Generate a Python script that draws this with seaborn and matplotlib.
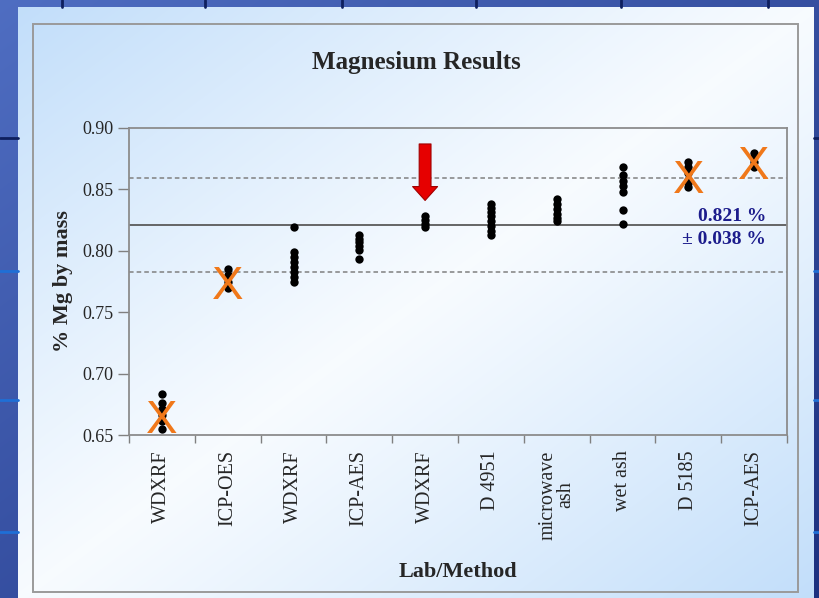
import numpy as np
import pandas as pd
import matplotlib
matplotlib.use("Agg")
import matplotlib.pyplot as plt
from matplotlib.ticker import FormatStrFormatter
from matplotlib.patches import Rectangle
import seaborn as sns

# ---- data ----
method_labels = ["WDXRF", "ICP-OES", "WDXRF", "ICP-AES", "WDXRF",
                 "D 4951", "microwave\nash", "wet ash", "D 5185", "ICP-AES"]
lab_ids = ["L%d" % (i + 1) for i in range(len(method_labels))]

lab1 = [0.683, 0.676, 0.671, 0.666, 0.661, 0.655]
lab2 = [0.785, 0.780, 0.775, 0.770]
lab3 = [0.819, 0.799, 0.795, 0.791, 0.787, 0.783, 0.779, 0.775]
lab4 = [0.813, 0.810, 0.807, 0.804, 0.801, 0.793]
lab5 = [0.828, 0.825, 0.822, 0.819]
lab6 = [0.838, 0.835, 0.832, 0.828, 0.824, 0.820, 0.816, 0.813]
lab7 = [0.842, 0.838, 0.834, 0.830, 0.827, 0.824]
lab8 = [0.868, 0.862, 0.857, 0.853, 0.848, 0.833, 0.822]
lab9 = [0.872, 0.868, 0.863, 0.858, 0.855, 0.852]
lab10 = [0.880, 0.876, 0.872, 0.868]

consensus_mean = 0.821
consensus_ci = 0.038

# labs struck out (index, centre of the X)
rejected_idx = [0, 1, 8, 9]
rejected_y = [0.6655, 0.775, 0.861, 0.872]

flagged_idx = 4

all_labs = [lab1, lab2, lab3, lab4, lab5, lab6, lab7, lab8, lab9, lab10]
df = pd.DataFrame({
    "lab": [lid for lid, vals in zip(lab_ids, all_labs) for _ in vals],
    "value": [v for vals in all_labs for v in vals],
})

# ---- figure + slide background ----
W, H = 819, 598
sns.set_style("ticks")
plt.rcParams["font.family"] = ["Liberation Serif", "DejaVu Serif"]

fig = plt.figure(figsize=(W / 100, H / 100), dpi=100)

yy, xx = np.mgrid[0:H, 0:W]
s = (xx / W * 0.5 + yy / H * 0.5)[..., None]
dark_a = np.array([0.31, 0.43, 0.76])
dark_b = np.array([0.11, 0.19, 0.50])
img = dark_a * (1 - s) + dark_b * s

px0, py0, px1, py1 = 18, 7, 814, 598
t = ((xx - px0) / (px1 - px0) + (yy - py0) / (py1 - py0)) / 2
f = (np.clip(np.abs(t - 0.5) * 2, 0, 1) ** 1.1)[..., None]
light_blue = np.array([0.76, 0.87, 0.98])
white = np.array([0.97, 0.985, 1.0])
panel = white * (1 - f) + light_blue * f
inside = ((xx >= px0) & (xx < px1) & (yy >= py0))[..., None]
img = np.where(inside, panel, img)

bg = fig.add_axes([0, 0, 1, 1])
bg.imshow(img, extent=(0, W, H, 0), aspect="auto", zorder=0)
bg.set_xlim(0, W)
bg.set_ylim(H, 0)
bg.axis("off")

for gx in [62, 205, 342, 476, 621, 768]:
    bg.plot([gx, gx], [0, py0], color="#0e1f5e", lw=2, zorder=1)
for gy, c in [(138, "#0e1f5e"), (271, "#1f6fd6"), (400, "#1f6fd6"), (532, "#1f6fd6")]:
    bg.plot([0, px0], [gy, gy], color=c, lw=2, zorder=1)
    bg.plot([px1, W], [gy, gy], color=c, lw=2, zorder=1)
bg.add_patch(Rectangle((33, 24), 765, 568, fill=False, ec="#9a9a9a", lw=1.4, zorder=2))

# ---- chart ----
ax = fig.add_axes([129 / W, 1 - 435 / H, 658 / W, 307 / H])
ax.patch.set_alpha(0)

ax.axhline(consensus_mean, color="#5a5a5a", lw=1.3, zorder=1)
for lim in [consensus_mean + consensus_ci, consensus_mean - consensus_ci]:
    ax.axhline(lim, color="#808080", lw=1.1, ls=(0, (3, 2)), zorder=1)

sns.stripplot(data=df, x="lab", y="value", order=lab_ids, jitter=False,
              color="black", size=6, linewidth=0, ax=ax, zorder=3)

for i, yv in zip(rejected_idx, rejected_y):
    ax.text(i, yv, "X", ha="center", va="center_baseline", fontsize=34,
            color="#F0781A", family="Liberation Sans", zorder=4)

ax.annotate("", xy=(flagged_idx, 0.841), xytext=(flagged_idx, 0.887),
            arrowprops=dict(arrowstyle="simple,head_length=1.0,head_width=1.8,tail_width=0.85",
                            fc="#e60000", ec="#a00000", lw=0.8,
                            shrinkA=0, shrinkB=0, mutation_scale=10),
            zorder=5)

ax.text(9.18, 0.8283, f"{consensus_mean:.3f} %", ha="right", va="center",
        fontsize=14, fontweight="bold", color="#1c1c8c")
ax.text(9.18, 0.8088, f"\u00b1 {consensus_ci:.3f} %", ha="right", va="center",
        fontsize=14, fontweight="bold", color="#1c1c8c")

ax.set_xlim(-0.5, 9.5)
ax.set_ylim(0.65, 0.90)
ax.set_yticks(np.arange(0.65, 0.901, 0.05))
ax.yaxis.set_major_formatter(FormatStrFormatter("%.2f"))
ax.set_xticks(range(len(method_labels)))
ax.set_xticklabels(method_labels, rotation=90, fontsize=14.5, linespacing=0.95)
ax.set_xticks(np.arange(-0.5, len(method_labels), 1), minor=True)
ax.tick_params(axis="x", which="major", length=0, pad=11)
ax.tick_params(axis="x", which="minor", length=6, color="#808080", width=1)
ax.tick_params(axis="y", length=8, color="#808080", width=1, labelsize=13, pad=3)

for sp in ax.spines.values():
    sp.set_visible(True)
    sp.set_color("#8c8c8c")
    sp.set_linewidth(1.3)

ax.set_xlabel("Lab/Method", fontsize=16, fontweight="bold", va="center")
ax.xaxis.set_label_coords(0.5, -0.446)
ax.set_ylabel("% Mg by mass", fontsize=16, fontweight="bold", va="center")
ax.yaxis.set_label_coords(-0.1, 0.5)

fig.text(416 / W, 1 - 62 / H, "Magnesium Results", ha="center", va="center",
         fontsize=18, fontweight="bold")

plt.savefig("out.png", dpi=100)
